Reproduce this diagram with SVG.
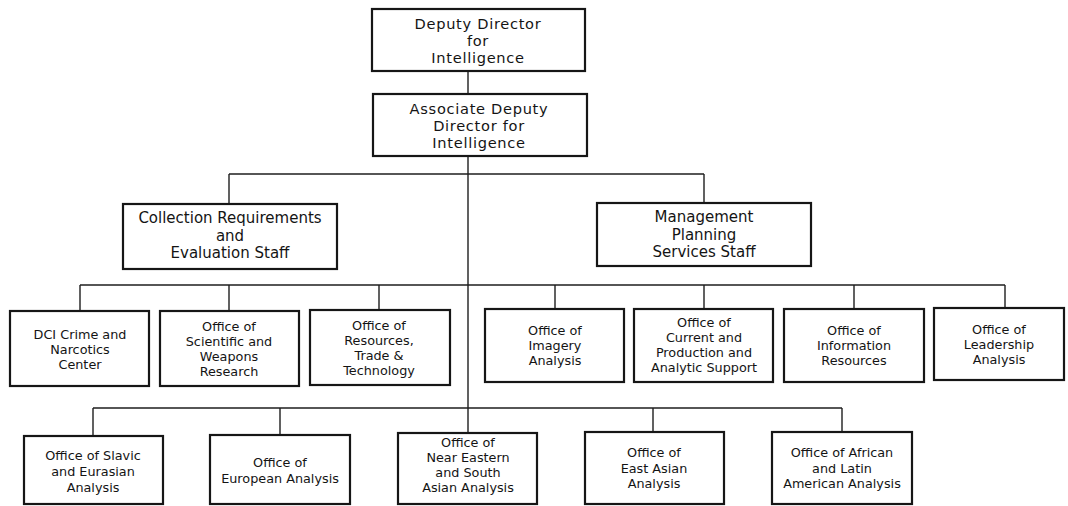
<svg xmlns="http://www.w3.org/2000/svg" width="1068" height="506" viewBox="0 0 1068 506">
  <style>
    .box { fill: #ffffff; stroke: #161616; stroke-width: 2.2; }
    .wire { fill: none; stroke: #1e1e1e; stroke-width: 1.4; }
    text { font-family: "DejaVu Sans", "Liberation Sans", sans-serif; fill: #141414; text-anchor: middle; }
    .big { font-size: 14.6px; letter-spacing: 0.7px; }
    .mid { font-size: 15px; }
    .sm { font-size: 12.8px; }
  </style>
  <rect x="0" y="0" width="1068" height="506" fill="#ffffff"/>

  <!-- connectors -->
  <g id="connectors" class="wire">
    <!-- central trunk -->
    <line x1="468" y1="71" x2="468" y2="94"/>
    <line x1="468" y1="156" x2="468" y2="433"/>
    <!-- staff level -->
    <line x1="229" y1="174" x2="704" y2="174"/>
    <line x1="229" y1="174" x2="229" y2="204"/>
    <line x1="704" y1="174" x2="704" y2="203"/>
    <!-- offices, first row -->
    <line x1="80" y1="285" x2="1005" y2="285"/>
    <line x1="80" y1="285" x2="80" y2="311"/>
    <line x1="229" y1="285" x2="229" y2="311"/>
    <line x1="379" y1="285" x2="379" y2="310"/>
    <line x1="555" y1="285" x2="555" y2="309"/>
    <line x1="704" y1="285" x2="704" y2="309"/>
    <line x1="854" y1="285" x2="854" y2="309"/>
    <line x1="1005" y1="285" x2="1005" y2="308"/>
    <!-- offices, second row -->
    <line x1="93" y1="408" x2="842" y2="408"/>
    <line x1="93" y1="408" x2="93" y2="436"/>
    <line x1="280" y1="408" x2="280" y2="435"/>
    <line x1="653" y1="408" x2="653" y2="432"/>
    <line x1="842" y1="408" x2="842" y2="432"/>
  </g>

  <g id="ddi">
    <rect class="box" x="372" y="9" width="213" height="62"/>
    <text class="big" x="478" y="29">Deputy Director</text>
    <text class="big" x="478" y="46">for</text>
    <text class="big" x="478" y="63">Intelligence</text>
  </g>

  <g id="addi">
    <rect class="box" x="373" y="94" width="214" height="62"/>
    <text class="big" x="479" y="114">Associate Deputy</text>
    <text class="big" x="479" y="131">Director for</text>
    <text class="big" x="479" y="148">Intelligence</text>
  </g>

  <g id="collection-staff">
    <rect class="box" x="123" y="204" width="214" height="65"/>
    <text class="mid" x="230" y="223">Collection Requirements</text>
    <text class="mid" x="230" y="240.5">and</text>
    <text class="mid" x="230" y="258">Evaluation Staff</text>
  </g>

  <g id="management-staff">
    <rect class="box" x="597" y="203" width="214" height="63"/>
    <text class="mid" x="704" y="222">Management</text>
    <text class="mid" x="704" y="239.5">Planning</text>
    <text class="mid" x="704" y="257">Services Staff</text>
  </g>

  <!-- first row of offices -->
  <g id="crime-narcotics">
    <rect class="box" x="10" y="311" width="139" height="75"/>
    <text class="sm" x="80" y="339">DCI Crime and</text>
    <text class="sm" x="80" y="354">Narcotics</text>
    <text class="sm" x="80" y="369">Center</text>
  </g>

  <g id="scientific-weapons">
    <rect class="box" x="160" y="311" width="139" height="75"/>
    <text class="sm" x="229" y="331">Office of</text>
    <text class="sm" x="229" y="346">Scientific and</text>
    <text class="sm" x="229" y="361">Weapons</text>
    <text class="sm" x="229" y="376">Research</text>
  </g>

  <g id="resources-trade">
    <rect class="box" x="310" y="310" width="140" height="75"/>
    <text class="sm" x="379" y="330">Office of</text>
    <text class="sm" x="379" y="345">Resources,</text>
    <text class="sm" x="379" y="360">Trade &amp;</text>
    <text class="sm" x="379" y="375">Technology</text>
  </g>

  <g id="imagery">
    <rect class="box" x="485" y="309" width="139" height="73"/>
    <text class="sm" x="555" y="335">Office of</text>
    <text class="sm" x="555" y="350">Imagery</text>
    <text class="sm" x="555" y="365">Analysis</text>
  </g>

  <g id="current-production">
    <rect class="box" x="634" y="309" width="139" height="73"/>
    <text class="sm" x="704" y="327">Office of</text>
    <text class="sm" x="704" y="342">Current and</text>
    <text class="sm" x="704" y="357">Production and</text>
    <text class="sm" x="704" y="372">Analytic Support</text>
  </g>

  <g id="information-resources">
    <rect class="box" x="784" y="309" width="140" height="73"/>
    <text class="sm" x="854" y="335">Office of</text>
    <text class="sm" x="854" y="350">Information</text>
    <text class="sm" x="854" y="365">Resources</text>
  </g>

  <g id="leadership">
    <rect class="box" x="934" y="308" width="130" height="72"/>
    <text class="sm" x="999" y="334">Office of</text>
    <text class="sm" x="999" y="349">Leadership</text>
    <text class="sm" x="999" y="364">Analysis</text>
  </g>

  <!-- second row of offices -->
  <g id="slavic-eurasian">
    <rect class="box" x="24" y="436" width="139" height="68"/>
    <text class="sm" x="93" y="460">Office of Slavic</text>
    <text class="sm" x="93" y="476">and Eurasian</text>
    <text class="sm" x="93" y="492">Analysis</text>
  </g>

  <g id="european">
    <rect class="box" x="210" y="435" width="140" height="69"/>
    <text class="sm" x="280" y="467">Office of</text>
    <text class="sm" x="280" y="483">European Analysis</text>
  </g>

  <g id="near-eastern">
    <rect class="box" x="398" y="433" width="139" height="71"/>
    <text class="sm" x="468" y="447">Office of</text>
    <text class="sm" x="468" y="462">Near Eastern</text>
    <text class="sm" x="468" y="477">and South</text>
    <text class="sm" x="468" y="492">Asian Analysis</text>
  </g>

  <g id="east-asian">
    <rect class="box" x="585" y="432" width="139" height="72"/>
    <text class="sm" x="654" y="457">Office of</text>
    <text class="sm" x="654" y="472.5">East Asian</text>
    <text class="sm" x="654" y="488">Analysis</text>
  </g>

  <g id="african-latin">
    <rect class="box" x="772" y="432" width="140" height="72"/>
    <text class="sm" x="842" y="457">Office of African</text>
    <text class="sm" x="842" y="472.5">and Latin</text>
    <text class="sm" x="842" y="488">American Analysis</text>
  </g>
</svg>
